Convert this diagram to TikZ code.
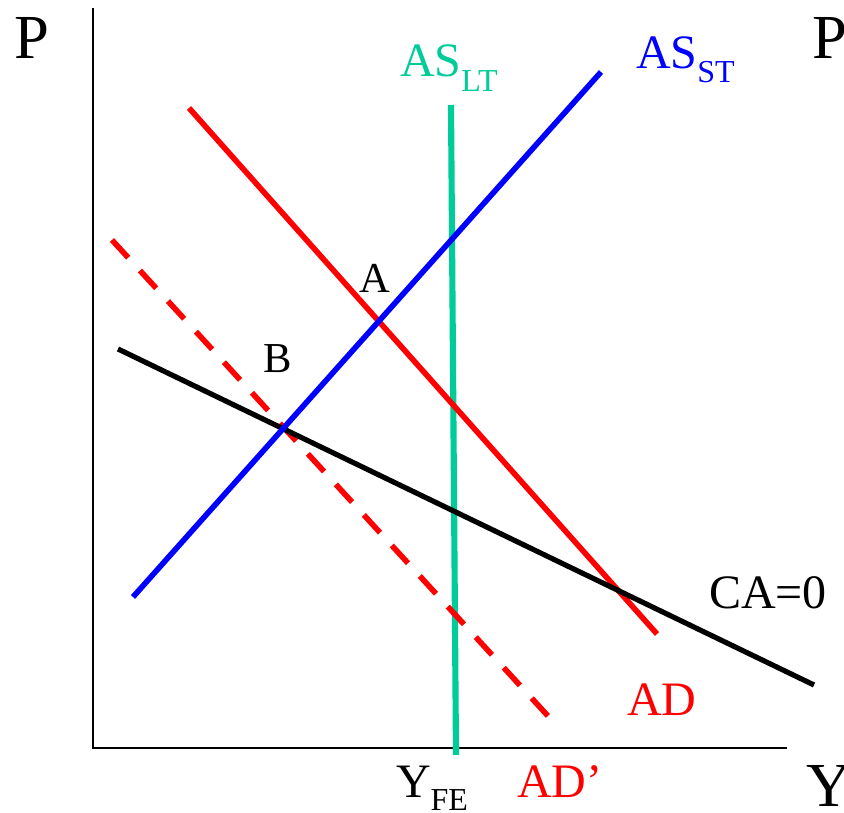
\documentclass[tikz,border=0pt]{standalone}
\usepackage{fontspec}
\setmainfont{Liberation Serif}
\definecolor{aslt}{RGB}{0,204,153}
\begin{document}
\begin{tikzpicture}[x=0.75pt,y=-0.75pt,
  lbl/.style={inner sep=0pt,outer sep=0pt,anchor=base west},
  axisline/.style={line width=1.9pt,black},
  curve/.style={line width=4.2pt},
  dashcurve/.style={line width=4.2pt,dash pattern=on 18pt off 13.07pt}]
\useasboundingbox (0,0) rectangle (844,813);
% axes
\coordinate (ytop) at (93,8);
\coordinate (orig) at (93,748);
\coordinate (xend) at (787,748);
\draw[axisline] (ytop) -- (orig) -- (xend);
% curves
\coordinate (lt1) at (451,105);
\coordinate (lt2) at (456,755);
\coordinate (st1) at (133,597);
\coordinate (st2) at (601,72);
\coordinate (ad1) at (189,108);
\coordinate (ad2) at (657,634);
\coordinate (adp1) at (112,240);
\coordinate (adp2) at (548,716);
\coordinate (ca1) at (118,349);
\coordinate (ca2) at (814,685);
\draw[curve,aslt,line width=4.6pt] (lt1) -- (lt2);
\draw[curve,red] (ad1) -- (ad2);
\draw[dashcurve,red] (adp1) -- (adp2);
\draw[curve,black,line width=3.9pt] (ca1) -- (ca2);
\draw[curve,blue] (st1) -- (st2);
% labels
\node[lbl,font=\fontsize{47}{50}\selectfont] (pl) at (14,59) {P};
\node[lbl,font=\fontsize{47}{50}\selectfont] (pr) at (812,59) {P};
\node[lbl,font=\fontsize{47}{50}\selectfont] (yr) at (806,806) {Y};
\node[lbl,aslt,font=\fontsize{36}{40}\selectfont] (aslt) at (400,77) {AS\raisebox{-10.9pt}{\fontsize{24}{26}\selectfont LT}};
\node[lbl,blue,font=\fontsize{36}{40}\selectfont] (asst) at (636,69) {AS\raisebox{-10.5pt}{\fontsize{24}{26}\selectfont ST}};
\node[lbl,font=\fontsize{36}{40}\selectfont] (yfe) at (396,797) {Y\raisebox{-9.8pt}{\fontsize{24}{26}\selectfont FE}};
\node[lbl,red,font=\fontsize{36}{40}\selectfont] (adpl) at (517,797) {AD’};
\node[lbl,red,font=\fontsize{36}{40}\selectfont] (adl) at (627,715) {AD};
\node[lbl,font=\fontsize{36}{40}\selectfont] (cal) at (709,609) {CA=0};
\node[lbl,font=\fontsize{32}{36}\selectfont] (al) at (359,293) {A};
\node[lbl,font=\fontsize{32}{36}\selectfont] (bl) at (263,373) {B};
\end{tikzpicture}
\end{document}
